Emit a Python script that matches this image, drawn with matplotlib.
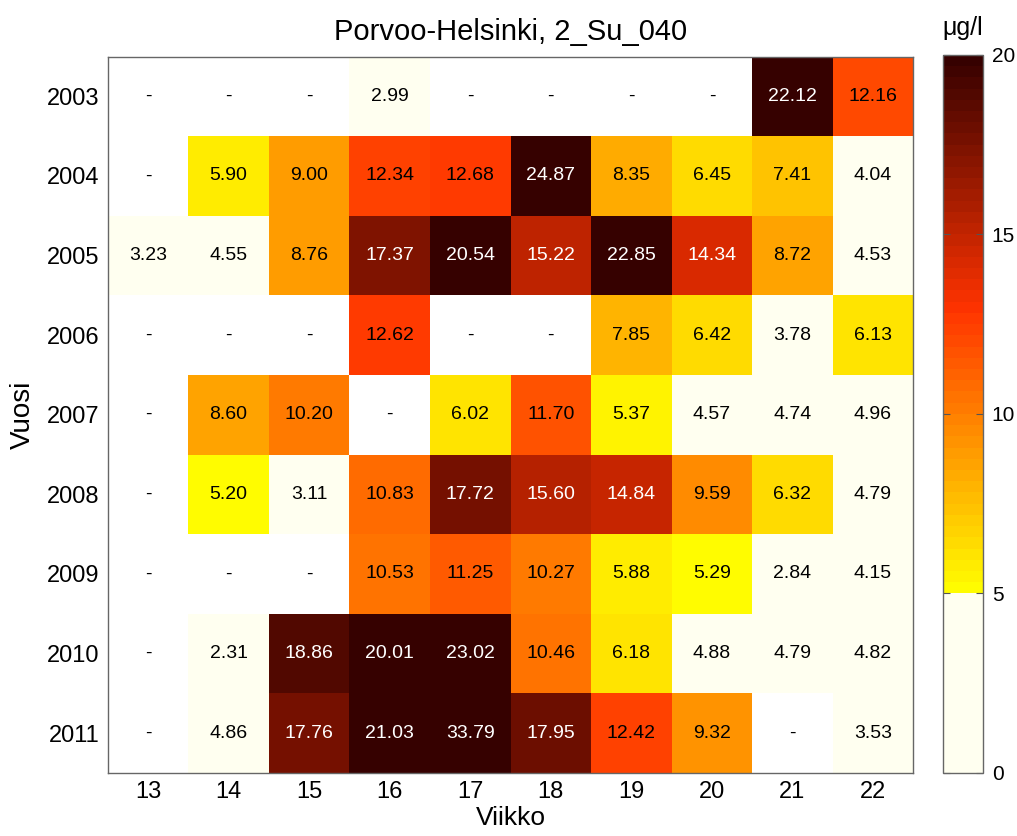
import matplotlib
matplotlib.use("Agg")
import matplotlib.pyplot as plt
import numpy as np
from matplotlib.colors import LinearSegmentedColormap, ListedColormap, Normalize

plt.rcParams["font.family"] = ["Liberation Sans", "DejaVu Sans"]

nan = np.nan

weeks = [13, 14, 15, 16, 17, 18, 19, 20, 21, 22]
years = [2003, 2004, 2005, 2006, 2007, 2008, 2009, 2010, 2011]

v2003 = [nan, nan, nan, 2.99, nan, nan, nan, nan, 22.12, 12.16]
v2004 = [nan, 5.90, 9.00, 12.34, 12.68, 24.87, 8.35, 6.45, 7.41, 4.04]
v2005 = [3.23, 4.55, 8.76, 17.37, 20.54, 15.22, 22.85, 14.34, 8.72, 4.53]
v2006 = [nan, nan, nan, 12.62, nan, nan, 7.85, 6.42, 3.78, 6.13]
v2007 = [nan, 8.60, 10.20, nan, 6.02, 11.70, 5.37, 4.57, 4.74, 4.96]
v2008 = [nan, 5.20, 3.11, 10.83, 17.72, 15.60, 14.84, 9.59, 6.32, 4.79]
v2009 = [nan, nan, nan, 10.53, 11.25, 10.27, 5.88, 5.29, 2.84, 4.15]
v2010 = [nan, 2.31, 18.86, 20.01, 23.02, 10.46, 6.18, 4.88, 4.79, 4.82]
v2011 = [nan, 4.86, 17.76, 21.03, 33.79, 17.95, 12.42, 9.32, nan, 3.53]

title = "Porvoo-Helsinki, 2_Su_040"
unit = "\u03bcg/l"
vmin, vmax, limit = 0, 20, 5

values = np.array([v2003, v2004, v2005, v2006, v2007, v2008, v2009, v2010, v2011])

# colormap: flat cream below the limit, yellow -> orange -> red -> dark brown above
n_levels = 64
hot_part = LinearSegmentedColormap.from_list(
    "warm",
    [(0.0, "#ffff00"), (4 / 15, "#ff9900"), (7.9 / 15, "#ff3300"), (1.0, "#330000")],
)
level_centers = (np.arange(n_levels) + 0.5) / n_levels * (vmax - vmin) + vmin
colors = []
for c in level_centers:
    if c < limit:
        colors.append("#fffff0")
    else:
        colors.append(hot_part((c - limit) / (vmax - limit)))
cmap = ListedColormap(colors)
cmap.set_bad("white")
norm = Normalize(vmin=vmin, vmax=vmax)

fig = plt.figure(figsize=(10.17, 8.36), dpi=100)
ax = fig.add_axes([0.106, 0.0754, 0.792, 0.857])

masked = np.ma.masked_invalid(values)
ax.pcolormesh(np.arange(len(weeks) + 1), np.arange(len(years) + 1), masked,
              cmap=cmap, norm=norm)
ax.set_xlim(0, len(weeks))
ax.set_ylim(len(years), 0)

for i in range(len(years)):
    for j in range(len(weeks)):
        v = values[i, j]
        if np.isnan(v):
            txt, col = "-", "black"
        else:
            txt = f"{v:.2f}"
            col = "white" if v >= 14 else "black"
        ax.text(j + 0.5, i + 0.5, txt, ha="center", va="center",
                fontsize=14, color=col)

ax.set_xticks(np.arange(len(weeks)) + 0.5)
ax.set_xticklabels([str(w) for w in weeks], fontsize=17)
ax.set_yticks(np.arange(len(years)) + 0.5)
ax.set_yticklabels([str(y) for y in years], fontsize=17)
ax.tick_params(length=0, pad=6)
for sp in ax.spines.values():
    sp.set_color("#666666")
    sp.set_linewidth(1)

ax.set_xlabel("Viikko", fontsize=19, labelpad=2)
ax.set_ylabel("Vuosi", fontsize=20, labelpad=8)
ax.set_title(title, fontsize=21, pad=12)

# colorbar
cax = fig.add_axes([0.927, 0.0754, 0.040, 0.859])
sm = plt.cm.ScalarMappable(cmap=cmap, norm=norm)
cb = fig.colorbar(sm, cax=cax)
cb.set_ticks([0, 5, 10, 15, 20])
cb.ax.tick_params(labelsize=15, direction="in", length=5, color="#555555",
                  left=True, right=True, pad=6)
cb.outline.set_edgecolor("#666666")
cb.outline.set_linewidth(1)
cax.text(0.5, 1.02, unit, transform=cax.transAxes, ha="center", va="bottom",
         fontsize=18)

fig.savefig("out.png", dpi=100)
